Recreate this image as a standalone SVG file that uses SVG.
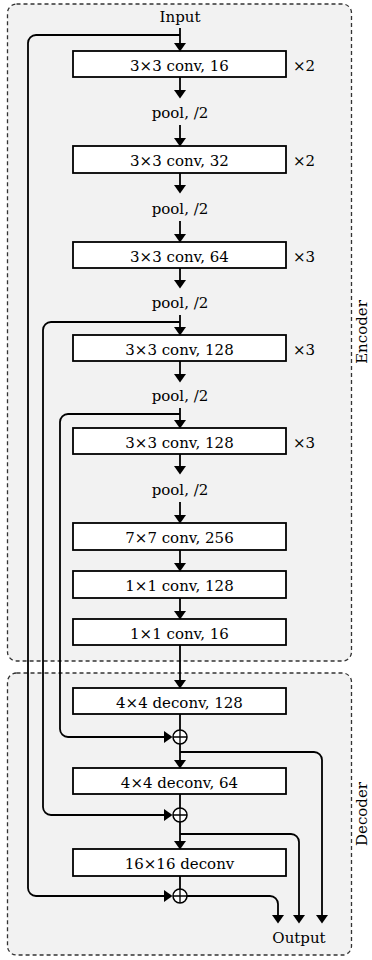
<svg xmlns="http://www.w3.org/2000/svg" width="372" height="960" viewBox="0 0 372 960">
<defs>
<marker id="ah" markerUnits="userSpaceOnUse" markerWidth="9" markerHeight="12" refX="5" refY="6" orient="auto" viewBox="0 0 9 12">
<path d="M0,0 L8.5,6 L0,12 z" fill="#000"/>
</marker>
<style>
.grp{fill:#f2f2f2;stroke:#333;stroke-width:1.3;stroke-dasharray:4 3}
.box rect{fill:#fff;stroke:#000;stroke-width:1.8}
text{font-family:"DejaVu Serif","Liberation Serif",serif;font-size:15px;fill:#000}
.c{text-anchor:middle}
.ln{fill:none;stroke:#000;stroke-width:1.8}
.ar{fill:none;stroke:#000;stroke-width:1.8;marker-end:url(#ah)}
.sum circle{fill:#fff;stroke:#000;stroke-width:1.5}
.sum path{stroke:#000;stroke-width:1.3}
</style>
</defs>
<g id="encoder-group">
<rect class="grp" x="7.5" y="4" width="344" height="657" rx="9"/>
<text transform="translate(367,332) rotate(-90)" class="c">Encoder</text>
</g>
<g id="decoder-group">
<rect class="grp" x="7.5" y="673" width="344" height="282" rx="9"/>
<text transform="translate(367,814) rotate(-90)" class="c">Decoder</text>
</g>
<g id="input"><text x="180" y="22" class="c">Input</text></g>
<g id="conv1" class="box"><rect x="73" y="51" width="213" height="26"/><text x="179.5" y="70.5" class="c">3×3 conv, 16</text><text x="293" y="70.5">×2</text></g>
<g id="pool1"><text x="180" y="118" class="c">pool, /2</text></g>
<g id="conv2" class="box"><rect x="73" y="146" width="213" height="27"/><text x="179.5" y="165.5" class="c">3×3 conv, 32</text><text x="293" y="165.5">×2</text></g>
<g id="pool2"><text x="180" y="214" class="c">pool, /2</text></g>
<g id="conv3" class="box"><rect x="73" y="242" width="213" height="26"/><text x="179.5" y="261.5" class="c">3×3 conv, 64</text><text x="293" y="261.5">×3</text></g>
<g id="pool3"><text x="180" y="308" class="c">pool, /2</text></g>
<g id="conv4" class="box"><rect x="73" y="335" width="213" height="26"/><text x="179.5" y="354.5" class="c">3×3 conv, 128</text><text x="293" y="354.5">×3</text></g>
<g id="pool4"><text x="180" y="401" class="c">pool, /2</text></g>
<g id="conv5" class="box"><rect x="73" y="428" width="213" height="26"/><text x="179.5" y="447.5" class="c">3×3 conv, 128</text><text x="293" y="447.5">×3</text></g>
<g id="pool5"><text x="180" y="495" class="c">pool, /2</text></g>
<g id="conv6" class="box"><rect x="73" y="523" width="213" height="27"/><text x="179.5" y="542.5" class="c">7×7 conv, 256</text></g>
<g id="conv7" class="box"><rect x="73" y="571" width="213" height="27"/><text x="179.5" y="590.5" class="c">1×1 conv, 128</text></g>
<g id="conv8" class="box"><rect x="73" y="619" width="213" height="26"/><text x="179.5" y="638.5" class="c">1×1 conv, 16</text></g>
<g id="deconv1" class="box"><rect x="73" y="688" width="213" height="26"/><text x="179.5" y="707.5" class="c">4×4 deconv, 128</text></g>
<g id="deconv2" class="box"><rect x="73" y="768" width="213" height="26"/><text x="179.5" y="787.5" class="c">4×4 deconv, 64</text></g>
<g id="deconv3" class="box"><rect x="73" y="849" width="213" height="27"/><text x="179.5" y="868.5" class="c">16×16 deconv</text></g>
<g id="sum1" class="sum"><circle cx="180" cy="737" r="7"/><path d="M173,737 H187 M180,730 V744"/></g>
<g id="sum2" class="sum"><circle cx="180" cy="815" r="7"/><path d="M173,815 H187 M180,808 V822"/></g>
<g id="sum3" class="sum"><circle cx="180" cy="896" r="7"/><path d="M173,896 H187 M180,889 V903"/></g>
<g id="output"><text x="299" y="943" class="c">Output</text></g>
<g id="connectors">
<path class="ar" d="M180,28 V48"/>
<path class="ar" d="M180,77 V95"/>
<path class="ar" d="M180,125 V143"/>
<path class="ar" d="M180,173 V190"/>
<path class="ar" d="M180,221 V239"/>
<path class="ar" d="M180,268 V285"/>
<path class="ar" d="M180,315 V332"/>
<path class="ar" d="M180,361 V379"/>
<path class="ar" d="M180,408 V425"/>
<path class="ar" d="M180,454 V471"/>
<path class="ar" d="M180,502 V520"/>
<path class="ar" d="M180,550 V568"/>
<path class="ar" d="M180,598 V616"/>
<path class="ar" d="M180,645 V685"/>
<path class="ln" d="M180,714 V730"/>
<path class="ar" d="M180,744 V765"/>
<path class="ln" d="M180,794 V808"/>
<path class="ar" d="M180,822 V846"/>
<path class="ln" d="M180,876 V889"/>
<path class="ar" d="M180,35 H36 A8,8 0 0 0 28,43 V888 A8,8 0 0 0 36,896 H169"/>
<path class="ar" d="M180,322 H51 A8,8 0 0 0 43,330 V807 A8,8 0 0 0 51,815 H169"/>
<path class="ar" d="M180,414 H68 A8,8 0 0 0 60,422 V729 A8,8 0 0 0 68,737 H169"/>
<path class="ar" d="M180,752 H314 A8,8 0 0 1 322,760 V920"/>
<path class="ar" d="M180,834 H291 A8,8 0 0 1 299,842 V920"/>
<path class="ar" d="M187,896 H270 A8,8 0 0 1 278,904 V920"/>
</g>
</svg>
